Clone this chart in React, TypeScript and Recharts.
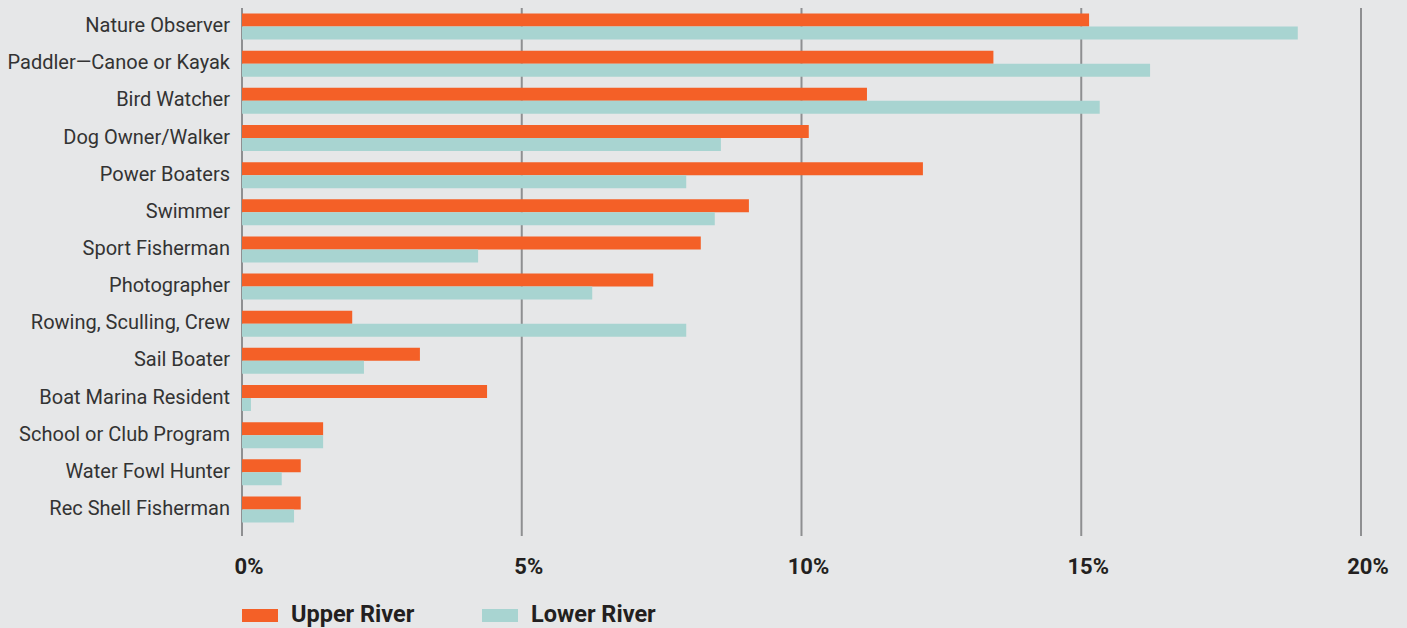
import React from 'react';
import { BarChart, Bar, XAxis, YAxis, CartesianGrid, Legend } from 'recharts';

const categories = [
  'Nature Observer',
  'Paddler\u2014Canoe or Kayak',
  'Bird Watcher',
  'Dog Owner/Walker',
  'Power Boaters',
  'Swimmer',
  'Sport Fisherman',
  'Photographer',
  'Rowing, Sculling, Crew',
  'Sail Boater',
  'Boat Marina Resident',
  'School or Club Program',
  'Water Fowl Hunter',
  'Rec Shell Fisherman',
];

// percentages
const upperRiver = [15.14, 13.43, 11.17, 10.13, 12.17, 9.06, 8.2, 7.35, 1.97, 3.18, 4.38, 1.45, 1.05, 1.05];
const lowerRiver = [18.87, 16.23, 15.33, 8.56, 7.94, 8.45, 4.22, 6.26, 7.94, 2.18, 0.16, 1.45, 0.71, 0.93];

const xTicks = [0, 5, 10, 15, 20];

const UPPER_COLOR = '#f46027';
const LOWER_COLOR = '#a8d4d1';
const BG = '#e6e7e8';
const TEXT = '#231f20';

const data = categories.map((name, i) => ({
  name,
  upper: upperRiver[i],
  lower: lowerRiver[i],
}));

const series = [
  { key: 'upper', label: 'Upper River', color: UPPER_COLOR },
  { key: 'lower', label: 'Lower River', color: LOWER_COLOR },
];

const renderLegend = () => (
  <div style={{ display: 'flex', paddingLeft: 242, paddingTop: 11, height: 40, boxSizing: 'border-box' }}>
    {series.map(s => (
      <div key={s.key} style={{ display: 'flex', alignItems: 'center', width: 240 }}>
        <span style={{ display: 'inline-block', width: 36, height: 13, background: s.color, marginRight: 13, marginTop: 3 }} />
        <span style={{ fontFamily: 'Roboto', fontWeight: 700, fontSize: 23.5, color: TEXT, lineHeight: '28px' }}>{s.label}</span>
      </div>
    ))}
  </div>
);

const App: React.FC = () => {
  return (
    <div style={{ position: 'fixed', top: 0, left: 0, width: 1407, height: 628, background: BG }}>
      <BarChart
        width={1407}
        height={628}
        data={data}
        layout="vertical"
        margin={{ top: 8, right: 46, left: 0, bottom: 0 }}
        barCategoryGap="15%"
        barGap={0}
      >
        <CartesianGrid horizontal={false} stroke="#8e8f91" strokeWidth={2} />
        <XAxis
          type="number"
          domain={[0, 20]}
          ticks={xTicks}
          axisLine={false}
          tickLine={{ stroke: '#8e8f91', strokeWidth: 2 }}
          tickSize={8}
          tickMargin={22}
          height={60}
          tickFormatter={(v: number) => `${v}%`}
          tick={{ fontFamily: 'Roboto', fontWeight: 700, fontSize: 22, fill: TEXT, dx: 7 }}
        />
        <YAxis
          type="category"
          dataKey="name"
          width={242}
          axisLine={false}
          tickLine={false}
          tickSize={0}
          tickMargin={12}
          interval={0}
          tick={{ fontFamily: 'Roboto', fontSize: 20, fill: '#333333', dy: -1.5 }}
        />
        <Legend verticalAlign="bottom" height={40} content={renderLegend} />
        {series.map(s => (
          <Bar key={s.key} dataKey={s.key} name={s.label} fill={s.color} isAnimationActive={false} />
        ))}
      </BarChart>
    </div>
  );
};

export default App;
